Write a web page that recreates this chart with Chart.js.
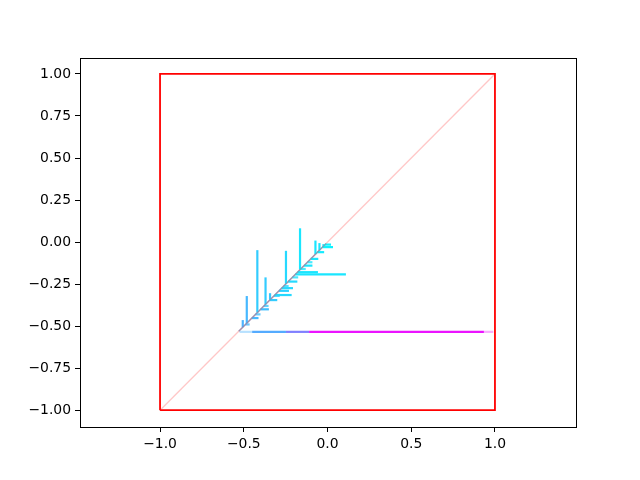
<!DOCTYPE html>
<html>
<head>
<meta charset="utf-8">
<script src="https://cdn.jsdelivr.net/npm/chart.js@4/dist/chart.umd.min.js"></script>
<style>html,body{margin:0;padding:0;background:#fff;}#wrap{width:640px;height:480px;}</style>
</head>
<body>
<div id="wrap"><canvas id="c" width="640" height="480"></canvas></div>
<script>
// axis ticks
const xTicks = [-1.0, -0.5, 0.0, 0.5, 1.0];
const yTicks = [-1.0, -0.75, -0.5, -0.25, 0.0, 0.25, 0.5, 0.75, 1.0];
// bounding box and diagonal
const boxX = [-1, 1, 1, -1, -1];
const boxY = [-1, -1, 1, 1, -1];
const diagX = [-1, 1];
const diagY = [-1, 1];
// quiver arrows: start (x,y), vector (u,v), colour value on "cool" map
const arrowX = [-0.506,-0.482,-0.419,-0.370,-0.343,-0.248,-0.164,-0.072,-0.048,-0.024,
                -0.192,-0.179,-0.315,-0.274,-0.030,-0.015,-0.452,-0.400,-0.345,-0.290,-0.235,-0.140,-0.100,-0.060,
                -0.490,-0.430,-0.380,-0.320,-0.262,-0.210,-0.160,-0.120,
                -0.525,-0.450,-0.248,-0.110,0.934];
const arrowY = [-0.506,-0.482,-0.419,-0.370,-0.343,-0.248,-0.164,-0.072,-0.048,-0.024,
                -0.192,-0.179,-0.315,-0.274,-0.030,-0.015,-0.452,-0.400,-0.345,-0.290,-0.235,-0.140,-0.100,-0.060,
                -0.490,-0.430,-0.380,-0.320,-0.262,-0.210,-0.160,-0.120,
                -0.534,-0.534,-0.534,-0.534,-0.534];
const arrowU = [0,0,0,0,0,0,0,0,0,0,
                0.302,0.122,0.101,0.068,0.063,0.036,0.040,0.050,0.045,0.060,0.055,0.050,0.045,0.040,
                0.025,0.030,0.028,0.035,0.030,0.035,0.030,0.030,
                0.075,0.202,0.138,1.044,0.056];
const arrowV = [0.042,0.161,0.371,0.160,0.039,0.196,0.246,0.081,0.042,0.012,
                0,0,0,0,0,0,0,0,0,0,0,0,0,0,
                0,0,0,0,0,0,0,0,
                0,0,0,0,0];
const arrowC = [0.30,0.28,0.20,0.20,0.22,0.15,0.10,0.10,0.10,0.10,
                0.10,0.10,0.15,0.15,0.05,0.05,0.28,0.25,0.20,0.18,0.15,0.10,0.10,0.08,
                0.28,0.25,0.22,0.18,0.15,0.12,0.10,0.10,
                0.30,0.33,0.50,0.92,0.92];
const arrowA = [1,1,1,1,1,1,1,1,1,1,
                1,1,1,1,1,1,1,1,1,1,1,1,1,1,
                0.8,0.8,0.8,0.8,0.8,0.8,0.8,0.8,
                0.4,1,1,1,0.35];
// trajectory along the diagonal
const pathX = [-0.53, -0.01];
const pathY = [-0.53, -0.01];

function cool(c, a) {
  const r = Math.round(255 * c), g = Math.round(255 * (1 - c));
  return `rgba(${r},${g},255,${a})`;
}
const fmtMinus = s => s.replace('-', '\u2212');

const datasets = [];
datasets.push({
  data: diagX.map((x, i) => ({x, y: diagY[i]})),
  borderColor: 'rgba(255,40,40,0.26)', borderWidth: 1.3, showLine: true, pointRadius: 0
});
arrowX.forEach((x, i) => {
  datasets.push({
    data: [{x, y: arrowY[i]}, {x: x + arrowU[i], y: arrowY[i] + arrowV[i]}],
    borderColor: cool(arrowC[i], arrowA[i]), borderWidth: 2.2, borderCapStyle: 'butt',
    showLine: true, pointRadius: 0
  });
});
datasets.push({
  data: pathX.map((x, i) => ({x, y: pathY[i]})),
  borderColor: 'rgba(100,150,200,0.75)', borderWidth: 1.5, showLine: true, pointRadius: 0
});
datasets.push({
  data: boxX.map((x, i) => ({x, y: boxY[i]})),
  borderColor: '#ff0000', borderWidth: 1.8, showLine: true, pointRadius: 0
});

const frame = {
  id: 'frame',
  afterDraw(chart) {
    const {ctx, chartArea: a} = chart;
    ctx.save();
    ctx.strokeStyle = '#000';
    ctx.lineWidth = 1;
    ctx.strokeRect(Math.round(a.left) + 0.5, Math.round(a.top) + 0.5,
                   Math.round(a.right - a.left), Math.round(a.bottom - a.top));
    ctx.restore();
  }
};

const tickFont = {family: 'DejaVu Sans', size: 13.9};
new Chart(document.getElementById('c'), {
  type: 'scatter',
  data: {datasets},
  options: {
    responsive: false,
    animation: false,
    events: [],
    layout: {padding: {left: 0, top: 58, right: 64, bottom: 0}},
    plugins: {legend: {display: false}, tooltip: {enabled: false}},
    scales: {
      x: {
        type: 'linear', min: -1.478, max: 1.484,
        afterBuildTicks: s => { s.ticks = xTicks.map(v => ({value: v})); },
        afterFit: s => { s.height = 53; },
        ticks: {color: '#000', font: tickFont, padding: 4, maxRotation: 0,
                callback: v => fmtMinus(Number(v).toFixed(1))},
        grid: {drawOnChartArea: false, tickLength: 5, color: '#000'},
        border: {display: false}
      },
      y: {
        type: 'linear', min: -1.10, max: 1.095,
        afterBuildTicks: s => { s.ticks = yTicks.map(v => ({value: v})); },
        afterFit: s => { s.width = 80; },
        ticks: {color: '#000', font: tickFont, padding: 4,
                callback: v => fmtMinus(Number(v).toFixed(2))},
        grid: {drawOnChartArea: false, tickLength: 5, color: '#000'},
        border: {display: false}
      }
    }
  },
  plugins: [frame]
});
</script>
</body>
</html>
